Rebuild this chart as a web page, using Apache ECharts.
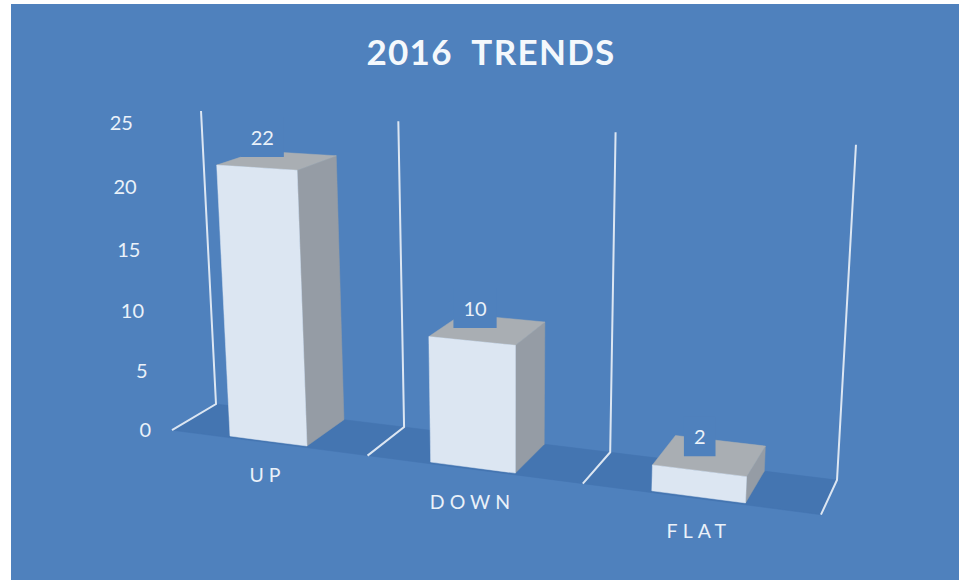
<!DOCTYPE html>
<html>
<head>
<meta charset="utf-8">
<style>
  html, body { margin: 0; padding: 0; background: #fff; }
  #chart { width: 959px; height: 580px; }
  #chart text { white-space: pre; }
  #chart text[style*="35px"] { letter-spacing: 1.3px; }
  #chart text[style*="19.5px"] { letter-spacing: 5px; }
</style>
<script src="https://cdn.jsdelivr.net/npm/echarts@6/dist/echarts.min.js"></script>
</head>
<body>
<div id="chart"></div>
<script>
const categories = ['UP', 'DOWN', 'FLAT'];
const values = [22, 10, 2];
const tickLabels = [0, 5, 10, 15, 20, 25];
const wallPositions = [0, 1, 2, 3];
const chartTitle = '2016  TRENDS';

const yMax = 25;
const FONT = 'Lato, "Open Sans", sans-serif';
const PANEL = '#4f81bd';
const FLOOR = '#4475b1';
const WALL = '#dce6f2';
const FACE_FRONT = '#dce6f2';
const FACE_SIDE = '#959ca5';
const FACE_TOP = '#a9aeb3';
const TEXT = '#eaf1f9';

// Perspective camera: a screen origin, the three vanishing points of the
// scene's axes, and where one unit length along each axis lands.
const camera = {
  origin: [216, 404],
  xAxis: { vanish: [-3900, -100], end: [837, 480], length: categories.length },
  yAxis: { vanish: [513, 6210], end: [201, 111], length: yMax },
  zAxis: { vanish: [1122, -135], end: [172, 430], length: 1 }
};

function axisWeight(axis) {
  const k = Math.abs(axis.vanish[0] - axis.end[0]) > Math.abs(axis.vanish[1] - axis.end[1]) ? 0 : 1;
  return (axis.end[k] - camera.origin[k]) / (axis.vanish[k] - axis.end[k]) / axis.length;
}
const weights = [camera.xAxis, camera.yAxis, camera.zAxis].map(axisWeight);

// Scene coordinates (category position, value, depth) to screen pixels.
function project(u, v, d) {
  const w = [u * weights[0], v * weights[1], d * weights[2]];
  const axes = [camera.xAxis, camera.yAxis, camera.zAxis];
  const den = 1 + w[0] + w[1] + w[2];
  return [0, 1].map(k =>
    (camera.origin[k] + w[0] * axes[0].vanish[k] + w[1] * axes[1].vanish[k] + w[2] * axes[2].vanish[k]) / den);
}

// The hidden cartesian grid supplies the scales; its pixels become scene coordinates here.
function sceneU(params, px) {
  return (px - params.coordSys.x) / params.coordSys.width * categories.length;
}
function sceneV(params, py) {
  return (params.coordSys.y + params.coordSys.height - py) / params.coordSys.height * yMax;
}

function polygon(points, fill) {
  return { type: 'polygon', shape: { points }, style: { fill, stroke: fill, lineWidth: 0.5 } };
}

function renderWalls(params, api) {
  const u = api.value(0);
  const top = sceneV(params, api.coord([0, yMax])[1]);
  const children = [];
  if (params.dataIndex === 0) {
    children.push(polygon([
      project(0, 0, 0), project(categories.length, 0, 0),
      project(categories.length, 0, 1), project(0, 0, 1)
    ], FLOOR));
  }
  children.push({
    type: 'polyline',
    shape: { points: [project(u, top, 0), project(u, 0, 0), project(u, 0, 1)] },
    style: { fill: null, stroke: WALL, lineWidth: 2 }
  });
  return { type: 'group', children };
}

function renderBar(params, api) {
  const centre = api.coord([api.value(0), 0])[0];
  const band = api.size([1, 0])[0];
  const u0 = sceneU(params, centre - band * 0.205);
  const u1 = sceneU(params, centre + band * 0.19);
  const v = sceneV(params, api.coord([0, api.value(1)])[1]);
  const front = 0.95, back = 0;
  const mid = sceneU(params, centre - band * 0.01);
  const anchor = project(mid, v, 0.72);
  return {
    type: 'group',
    children: [
      polygon([project(u1, 0, front), project(u1, 0, back), project(u1, v, back), project(u1, v, front)], FACE_SIDE),
      polygon([project(u0, v, front), project(u0, v, back), project(u1, v, back), project(u1, v, front)], FACE_TOP),
      polygon([project(u0, 0, front), project(u1, 0, front), project(u1, v, front), project(u0, v, front)], FACE_FRONT),
      {
        type: 'text',
        x: anchor[0] - 4,
        y: anchor[1] - 27,
        style: {
          text: String(api.value(1)),
          font: '20px ' + FONT,
          fill: TEXT,
          align: 'center',
          verticalAlign: 'middle',
          backgroundColor: PANEL,
          padding: [8, 10, 12, 10]
        }
      }
    ]
  };
}

function renderCategoryLabel(params, api) {
  const i = api.value(0);
  const p = project(sceneU(params, api.coord([i, 0])[0]), 0, 1);
  return {
    type: 'text',
    x: p[0],
    y: p[1] + 32,
    style: { text: categories[i], font: '19.5px ' + FONT, fill: TEXT, align: 'center', verticalAlign: 'middle' }
  };
}

function renderTickLabel(params, api) {
  const tick = api.value(1);
  const p = project(0, sceneV(params, api.coord([0, tick])[1]), 1);
  return {
    type: 'text',
    x: p[0] - 21,
    y: p[1] - 1.5,
    style: { text: String(tick), font: '20px ' + FONT, fill: TEXT, align: 'right', verticalAlign: 'middle' }
  };
}

const chart = echarts.init(document.getElementById('chart'), null, { renderer: 'svg' });
chart.setOption({
  animation: false,
  backgroundColor: '#ffffff',
  title: {
    text: chartTitle,
    left: 486,
    top: 28,
    textAlign: 'center',
    textStyle: { color: '#f4f8fc', fontFamily: FONT, fontWeight: 'bold', fontSize: 35 }
  },
  graphic: [{
    type: 'rect', left: 11, top: 4, z: -10,
    shape: { width: 948, height: 576 },
    style: { fill: PANEL }
  }],
  grid: { left: 100, top: 100, width: 600, height: 300 },
  xAxis: { type: 'category', data: categories, show: false },
  yAxis: { type: 'value', min: 0, max: yMax, interval: 5, show: false },
  series: [
    { type: 'custom', name: 'walls', renderItem: renderWalls, data: wallPositions.map(u => [u]), encode: { x: 0 }, z: 2, silent: true },
    { type: 'custom', name: 'ticks', renderItem: renderTickLabel, data: tickLabels.map(t => [0, t]), z: 3, silent: true },
    { type: 'custom', name: 'labels', renderItem: renderCategoryLabel, data: categories.map((c, i) => [i]), encode: { x: 0 }, z: 3, silent: true },
    { type: 'custom', name: 'bars', renderItem: renderBar, data: values.map((v, i) => [i, v]), z: 4 }
  ]
});
</script>
</body>
</html>
